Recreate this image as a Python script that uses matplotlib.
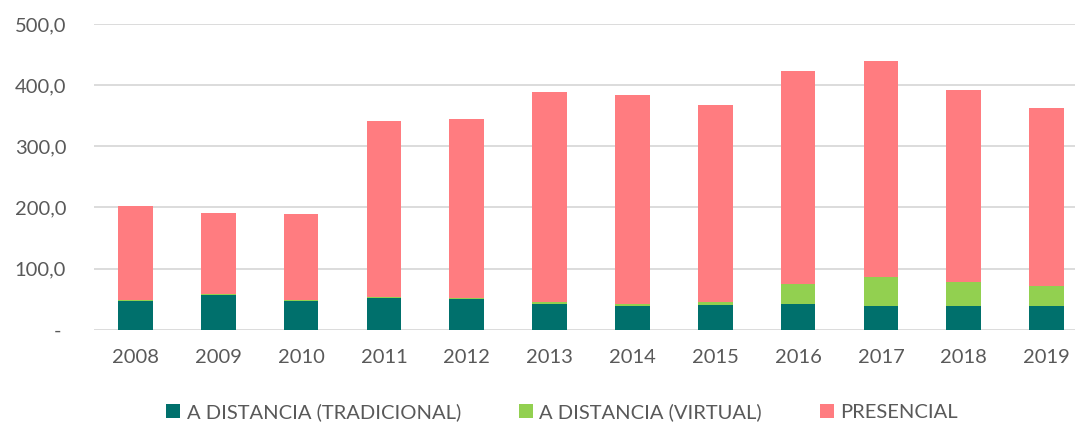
import numpy as np
import matplotlib
matplotlib.use("Agg")
import matplotlib.pyplot as plt
from matplotlib.ticker import FuncFormatter

years = ["2008", "2009", "2010", "2011", "2012", "2013",
         "2014", "2015", "2016", "2017", "2018", "2019"]
tradicional = [47.5, 56.3, 46.4, 51.4, 49.7, 42.0, 39.3, 39.8, 41.9, 39.3, 38.1, 38.1]
virtual = [1.5, 2.1, 2.2, 1.6, 2.2, 3.3, 3.2, 5.4, 32.2, 46.8, 39.3, 33.9]
presencial = [153.6, 132.3, 140.4, 288.0, 292.4, 343.1, 341.0, 323.1, 348.6, 354.1, 314.3, 291.4]

series_names = ["A DISTANCIA (TRADICIONAL)", "A DISTANCIA (VIRTUAL)", "PRESENCIAL"]
colors = ["#00706C", "#92D050", "#FF7C80"]

plt.rcParams["font.family"] = ["Lato", "DejaVu Sans"]
text_color = "#595959"
fs = 14.5

fig = plt.figure(figsize=(10.75, 4.26), dpi=100)
ax = fig.add_axes([94 / 1075, 1 - 329.7 / 426, 994 / 1075, (329.7 - 24) / 426])

x = np.arange(len(years))
width = 0.42
bottom = np.zeros(len(years))
for name, vals, col in zip(series_names, [tradicional, virtual, presencial], colors):
    ax.bar(x, vals, width, bottom=bottom, color=col, label=name, zorder=3)
    bottom += np.array(vals)

ax.set_xlim(-0.5, len(years) - 0.5)
ax.set_ylim(0, 500)
ax.set_yticks([0, 100, 200, 300, 400, 500])
ax.yaxis.set_major_formatter(FuncFormatter(
    lambda v, p: "- " if v == 0 else f"{v:.1f}".replace(".", ",")))
ax.set_xticks(x)
ax.set_xticklabels(years)

ax.grid(axis="y", color="#D9D9D9", linewidth=1.3, zorder=0)
for s in ["top", "right", "left", "bottom"]:
    ax.spines[s].set_visible(False)
ax.tick_params(axis="both", length=0, labelsize=fs, colors=text_color)
ax.tick_params(axis="y", pad=20)
ax.tick_params(axis="x", pad=14)

handles, labels = ax.get_legend_handles_labels()
fig.legend(handles, labels, loc="center", bbox_to_anchor=(0.523, 1 - 412 / 426),
           ncol=3, frameon=False, fontsize=fs, labelcolor=text_color,
           handlelength=0.7, handleheight=0.7, handletextpad=0.3,
           columnspacing=2.9)

fig.savefig("out.png", dpi=100)
